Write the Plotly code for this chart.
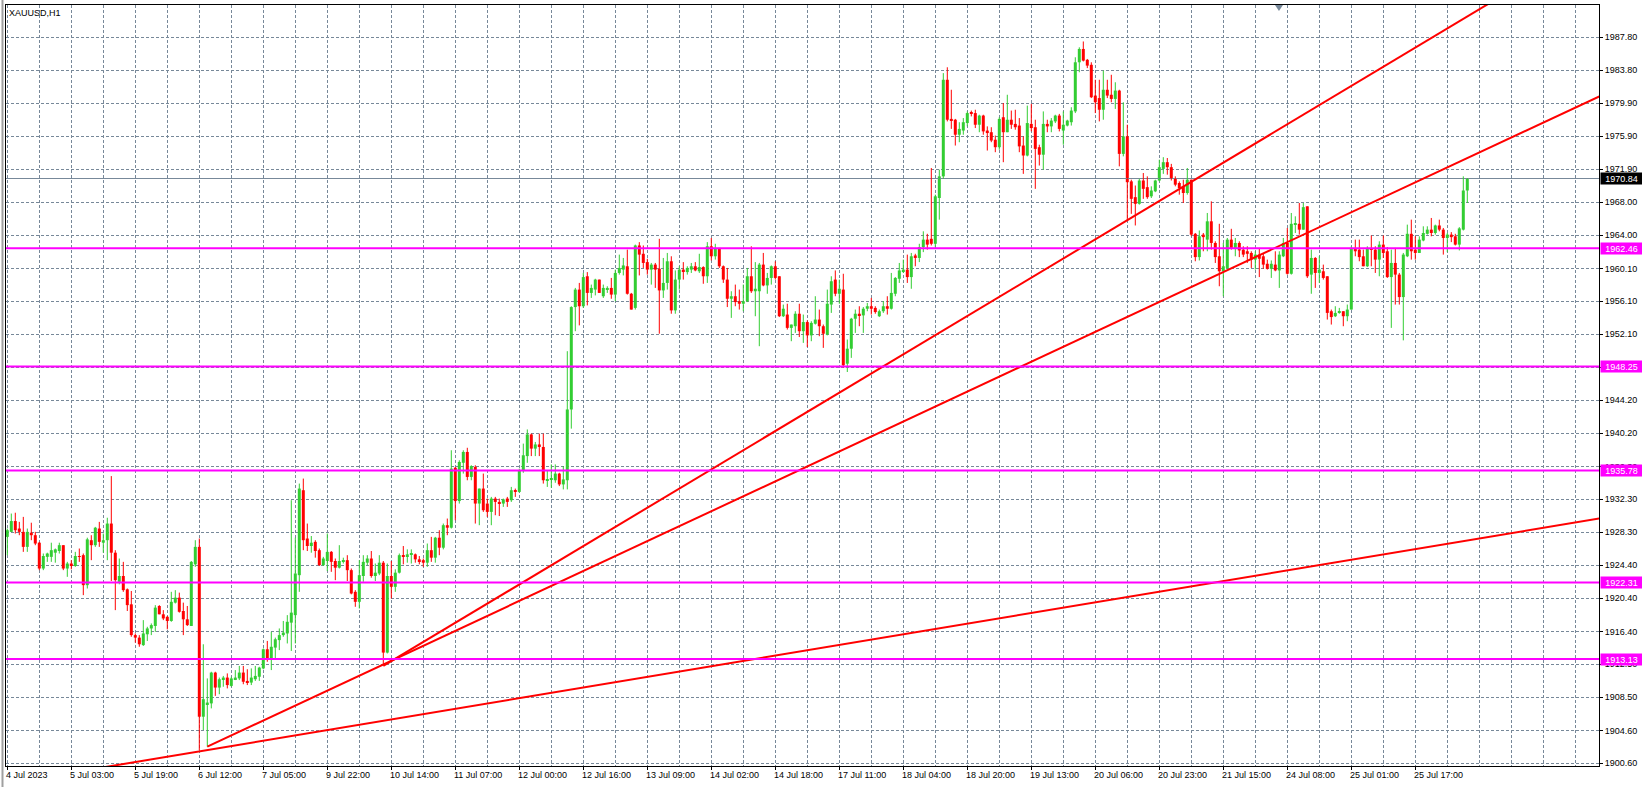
"""XAUUSD H1 candles (MT4 look) with trend lines and horizontal levels."""
import plotly.graph_objects as go

# ---- data --------------------------------------------------------------------
OPEN = [
    1927.8, 1928.4, 1929.7, 1928.8, 1928.4, 1926.6, 1928.3, 1928.0, 1927.1, 1924.0,
    1925.4, 1925.4, 1925.9, 1926.1, 1926.8, 1924.0, 1924.6, 1924.3, 1925.5, 1925.6,
    1922.0, 1927.4, 1926.8, 1928.8, 1927.1, 1927.4, 1929.4, 1925.9, 1922.4, 1923.1,
    1921.5, 1919.7, 1916.0, 1915.7, 1914.8, 1916.1, 1916.8, 1917.1, 1919.5, 1918.5,
    1918.2, 1917.7, 1919.9, 1920.5, 1918.9, 1917.9, 1917.1, 1924.5, 1926.6, 1906.2,
    1907.7, 1907.8, 1911.5, 1909.7, 1910.7, 1910.9, 1909.9, 1910.7, 1910.8, 1911.5,
    1910.5, 1910.3, 1910.7, 1911.0, 1912.0, 1914.3, 1913.1, 1914.5, 1915.4, 1916.0,
    1916.2, 1917.5, 1918.4, 1923.2, 1933.4, 1927.6, 1926.7, 1927.2, 1926.2, 1924.4,
    1924.9, 1926.0, 1924.9, 1924.1, 1924.8, 1925.0, 1923.8, 1921.2, 1920.0, 1923.1,
    1924.7, 1925.2, 1923.1, 1923.4, 1924.7, 1913.9, 1923.1, 1921.8, 1923.5, 1925.6,
    1925.5, 1925.7, 1925.7, 1925.1, 1925.0, 1924.7, 1926.2, 1925.3, 1927.7, 1926.5,
    1929.2, 1928.9, 1936.1, 1932.1, 1936.7, 1938.0, 1935.0, 1936.2, 1931.8, 1933.6,
    1931.8, 1930.8, 1932.4, 1932.0, 1931.8, 1932.4, 1932.2, 1933.4, 1933.2, 1935.7,
    1937.5, 1940.1, 1938.4, 1938.9, 1938.6, 1934.6, 1934.7, 1934.6, 1935.4, 1934.1,
    1934.6, 1943.1, 1955.4, 1957.5, 1955.5, 1959.1, 1957.1, 1957.5, 1958.7, 1956.7,
    1957.5, 1957.7, 1956.9, 1959.5, 1959.9, 1960.3, 1957.0, 1955.3, 1962.8, 1961.8,
    1960.8, 1959.9, 1960.5, 1960.0, 1957.4, 1958.3, 1960.9, 1955.0, 1958.7, 1959.9,
    1959.6, 1959.9, 1960.3, 1959.7, 1960.2, 1959.1, 1962.7, 1961.5, 1962.5, 1960.3,
    1958.7, 1956.4, 1956.7, 1956.1, 1955.8, 1956.1, 1959.1, 1957.3, 1957.3, 1960.5,
    1958.0, 1958.9, 1960.3, 1959.1, 1954.3, 1954.5, 1952.9, 1953.1, 1954.6, 1952.5,
    1953.6, 1952.0, 1953.4, 1953.9, 1953.1, 1952.1, 1955.7, 1958.7, 1957.0, 1957.5,
    1948.6, 1950.4, 1954.0, 1954.6, 1954.4, 1955.2, 1955.5, 1955.3, 1954.3, 1954.9,
    1955.5, 1955.2, 1957.0, 1958.8, 1959.7, 1959.9, 1959.0, 1961.6, 1961.3, 1962.6,
    1963.5, 1963.6, 1963.0, 1968.5, 1971.1, 1982.7, 1978.0, 1977.9, 1976.1, 1976.6,
    1977.5, 1978.8, 1978.7, 1977.3, 1978.4, 1976.6, 1976.4, 1975.5, 1974.6, 1978.2,
    1976.4, 1977.9, 1977.4, 1977.2, 1974.8, 1973.6, 1977.4, 1977.0, 1974.6, 1973.7,
    1977.4, 1977.1, 1977.7, 1978.4, 1976.6, 1977.2, 1977.6, 1978.9, 1984.8, 1986.4,
    1985.1, 1984.5, 1980.8, 1980.5, 1979.1, 1981.5, 1980.9, 1980.4, 1981.4, 1973.8,
    1975.9, 1970.5, 1968.6, 1967.8, 1970.6, 1969.8, 1968.7, 1969.3, 1970.6, 1972.0,
    1972.8, 1972.2, 1970.9, 1970.3, 1969.9, 1969.1, 1970.7, 1964.2, 1961.4, 1964.1,
    1963.5, 1965.7, 1963.1, 1961.5, 1959.7, 1960.1, 1963.5, 1962.5, 1963.1, 1962.3,
    1962.1, 1961.9, 1961.1, 1961.7, 1961.5, 1960.6, 1960.0, 1960.5, 1959.8, 1961.5,
    1963.1, 1959.4, 1965.3, 1965.4, 1964.7, 1967.5, 1959.3, 1961.3, 1959.5, 1959.7,
    1959.1, 1954.9, 1954.3, 1954.7, 1954.9, 1954.3, 1955.1, 1962.5, 1962.3, 1961.5,
    1960.3, 1962.5, 1962.3, 1961.1, 1962.9, 1962.1, 1959.0, 1960.7, 1959.3, 1956.6,
    1961.5, 1964.2, 1962.3, 1961.9, 1963.4, 1964.2, 1964.7, 1964.3, 1965.2, 1964.7,
    1963.7, 1964.1, 1963.9, 1962.9, 1964.7, 1969.4,
]
HIGH = [
    1928.8, 1930.6, 1930.7, 1929.6, 1930.2, 1928.8, 1929.5, 1928.4, 1927.2, 1925.8,
    1925.9, 1927.1, 1926.4, 1927.1, 1926.8, 1924.8, 1925.0, 1926.0, 1926.4, 1925.8,
    1927.7, 1928.0, 1929.0, 1929.6, 1928.2, 1930.1, 1935.1, 1926.2, 1925.2, 1924.8,
    1921.6, 1921.3, 1916.2, 1916.0, 1917.8, 1917.0, 1917.4, 1919.6, 1919.6, 1919.0,
    1918.3, 1921.2, 1921.4, 1921.1, 1919.9, 1919.5, 1924.9, 1927.4, 1927.6, 1914.9,
    1910.8, 1911.6, 1911.6, 1910.9, 1911.1, 1911.4, 1911.0, 1911.8, 1912.3, 1912.3,
    1911.9, 1912.0, 1912.3, 1912.2, 1914.4, 1915.3, 1916.4, 1915.7, 1916.8, 1917.7,
    1918.4, 1932.2, 1927.7, 1934.2, 1934.8, 1929.4, 1927.9, 1927.4, 1926.4, 1925.4,
    1928.2, 1926.1, 1925.2, 1926.8, 1925.3, 1925.6, 1924.0, 1921.4, 1925.0, 1925.6,
    1925.6, 1926.1, 1924.6, 1925.6, 1924.9, 1924.6, 1924.9, 1923.9, 1925.8, 1926.7,
    1926.3, 1926.3, 1925.8, 1925.5, 1925.2, 1927.0, 1927.8, 1927.8, 1928.6, 1929.4,
    1930.0, 1938.2, 1936.2, 1937.0, 1938.2, 1938.5, 1936.4, 1936.4, 1933.6, 1935.4,
    1932.4, 1932.6, 1932.6, 1932.4, 1932.4, 1932.6, 1933.8, 1933.6, 1936.0, 1939.0,
    1940.7, 1940.2, 1939.2, 1940.2, 1940.2, 1935.8, 1936.5, 1936.5, 1935.5, 1936.3,
    1950.1, 1955.5, 1957.7, 1958.3, 1959.5, 1959.6, 1958.1, 1958.8, 1958.7, 1958.1,
    1957.9, 1958.9, 1959.9, 1961.7, 1961.3, 1962.3, 1957.1, 1962.9, 1963.2, 1962.8,
    1961.2, 1960.7, 1960.7, 1963.6, 1961.3, 1961.9, 1961.5, 1959.8, 1960.3, 1960.8,
    1960.3, 1960.7, 1960.8, 1961.8, 1960.3, 1963.2, 1963.7, 1963.0, 1962.5, 1960.4,
    1960.1, 1957.3, 1958.1, 1957.5, 1958.1, 1960.1, 1962.7, 1960.8, 1960.7, 1961.9,
    1959.5, 1960.4, 1960.9, 1959.1, 1955.7, 1955.8, 1953.3, 1954.9, 1955.8, 1954.5,
    1953.8, 1953.7, 1956.7, 1955.1, 1953.3, 1957.5, 1959.1, 1959.8, 1958.7, 1959.4,
    1951.5, 1954.1, 1955.1, 1955.5, 1955.4, 1955.9, 1956.5, 1955.5, 1955.1, 1956.1,
    1956.7, 1959.5, 1959.0, 1960.7, 1961.1, 1961.7, 1961.9, 1961.8, 1963.0, 1964.5,
    1964.2, 1972.1, 1968.9, 1971.9, 1983.5, 1984.2, 1981.5, 1978.0, 1977.6, 1978.1,
    1978.9, 1979.0, 1979.1, 1978.5, 1978.5, 1977.1, 1977.0, 1976.0, 1978.2, 1979.9,
    1980.9, 1979.0, 1979.1, 1978.1, 1975.9, 1979.6, 1979.8, 1977.9, 1974.9, 1978.9,
    1977.9, 1978.1, 1978.5, 1978.6, 1978.9, 1977.9, 1979.4, 1985.4, 1986.6, 1987.3,
    1985.2, 1984.8, 1982.7, 1982.7, 1983.8, 1982.7, 1983.3, 1982.4, 1981.5, 1980.0,
    1977.3, 1970.7, 1970.0, 1970.8, 1971.5, 1971.1, 1969.9, 1970.7, 1973.1, 1973.4,
    1973.3, 1972.6, 1971.1, 1970.5, 1970.7, 1972.1, 1970.7, 1964.3, 1964.6, 1964.3,
    1966.7, 1968.1, 1963.3, 1965.4, 1963.1, 1963.7, 1964.8, 1963.7, 1963.3, 1962.7,
    1962.7, 1962.1, 1962.1, 1962.5, 1961.9, 1961.1, 1961.0, 1962.1, 1962.1, 1963.7,
    1964.9, 1966.7, 1966.3, 1967.9, 1967.9, 1967.5, 1962.3, 1961.4, 1961.5, 1960.5,
    1959.1, 1955.1, 1955.5, 1955.3, 1954.9, 1955.7, 1962.7, 1963.5, 1963.5, 1962.3,
    1962.7, 1964.0, 1962.7, 1963.3, 1964.0, 1962.6, 1962.3, 1962.5, 1959.5, 1961.9,
    1965.3, 1965.9, 1963.9, 1963.9, 1965.1, 1965.1, 1966.1, 1965.3, 1965.9, 1964.9,
    1964.3, 1964.4, 1964.2, 1965.0, 1971.1, 1970.9,
]
LOW = [
    1925.6, 1928.4, 1928.2, 1928.0, 1926.0, 1926.0, 1927.4, 1926.8, 1923.8, 1923.8,
    1924.8, 1924.8, 1924.7, 1925.8, 1923.8, 1923.0, 1923.9, 1924.2, 1924.8, 1920.8,
    1921.6, 1925.0, 1926.6, 1926.6, 1925.9, 1925.0, 1922.5, 1919.0, 1922.1, 1921.2,
    1918.9, 1915.8, 1915.1, 1914.6, 1914.7, 1915.3, 1916.0, 1916.4, 1918.5, 1917.8,
    1916.7, 1917.6, 1919.8, 1918.7, 1916.0, 1917.1, 1917.1, 1924.2, 1902.2, 1904.6,
    1902.6, 1907.2, 1908.7, 1908.9, 1909.8, 1909.6, 1909.8, 1910.6, 1910.6, 1910.1,
    1910.0, 1910.0, 1910.5, 1910.5, 1911.9, 1912.8, 1911.8, 1913.1, 1914.2, 1915.8,
    1915.0, 1914.1, 1915.0, 1921.2, 1926.2, 1926.1, 1925.9, 1925.3, 1924.3, 1924.3,
    1923.7, 1923.6, 1922.6, 1924.0, 1924.6, 1922.5, 1920.9, 1919.4, 1919.2, 1922.4,
    1924.4, 1922.9, 1922.5, 1923.2, 1912.5, 1913.8, 1920.4, 1921.2, 1923.4, 1924.5,
    1924.7, 1924.6, 1924.7, 1924.5, 1924.2, 1924.2, 1924.8, 1924.7, 1925.6, 1926.3,
    1928.0, 1928.8, 1929.8, 1931.8, 1935.4, 1934.6, 1934.6, 1929.4, 1929.2, 1930.8,
    1930.2, 1929.2, 1930.4, 1930.3, 1931.4, 1931.4, 1932.0, 1932.6, 1933.1, 1935.5,
    1936.7, 1937.5, 1937.5, 1937.5, 1934.2, 1933.8, 1933.7, 1934.3, 1933.9, 1933.5,
    1933.5, 1940.8, 1952.5, 1953.2, 1955.3, 1955.6, 1956.5, 1956.8, 1957.1, 1956.5,
    1957.1, 1956.4, 1956.1, 1959.3, 1959.2, 1956.9, 1955.1, 1955.1, 1959.2, 1960.1,
    1959.3, 1958.1, 1957.7, 1952.2, 1956.5, 1957.5, 1954.6, 1954.6, 1957.5, 1958.7,
    1959.3, 1959.5, 1959.7, 1959.5, 1958.2, 1958.3, 1961.0, 1961.1, 1960.1, 1958.3,
    1955.4, 1954.1, 1955.5, 1955.1, 1954.9, 1956.0, 1957.1, 1954.3, 1950.7, 1957.9,
    1957.0, 1958.1, 1958.7, 1954.2, 1954.2, 1952.7, 1951.3, 1952.3, 1951.8, 1951.1,
    1950.6, 1951.3, 1953.3, 1951.9, 1950.5, 1952.0, 1954.7, 1956.7, 1955.8, 1948.1,
    1947.6, 1949.3, 1952.3, 1953.1, 1952.3, 1954.9, 1954.5, 1954.6, 1954.2, 1954.7,
    1954.5, 1955.1, 1956.7, 1958.3, 1959.5, 1958.3, 1957.6, 1960.3, 1960.8, 1962.0,
    1962.3, 1962.8, 1962.6, 1965.9, 1970.8, 1977.7, 1976.8, 1974.8, 1975.2, 1976.1,
    1977.1, 1978.3, 1976.9, 1976.4, 1976.1, 1974.2, 1975.2, 1974.0, 1974.3, 1972.8,
    1976.4, 1976.8, 1976.7, 1974.0, 1971.4, 1973.5, 1976.5, 1969.6, 1972.4, 1971.9,
    1976.4, 1976.4, 1977.5, 1976.5, 1974.9, 1977.1, 1977.2, 1978.7, 1983.6, 1984.9,
    1984.1, 1980.5, 1978.7, 1977.7, 1977.9, 1980.5, 1980.0, 1979.2, 1972.3, 1973.5,
    1965.8, 1966.6, 1965.2, 1967.7, 1968.4, 1968.4, 1968.5, 1969.2, 1970.5, 1971.4,
    1971.3, 1970.6, 1969.9, 1968.9, 1967.9, 1968.9, 1963.9, 1960.9, 1961.0, 1962.1,
    1962.1, 1962.3, 1960.7, 1957.9, 1956.7, 1959.9, 1962.3, 1961.5, 1961.4, 1961.4,
    1960.7, 1960.1, 1959.9, 1959.0, 1960.0, 1959.9, 1958.9, 1959.7, 1957.7, 1961.4,
    1959.3, 1959.3, 1964.3, 1964.1, 1964.7, 1958.9, 1957.0, 1957.7, 1958.3, 1958.7,
    1953.9, 1953.3, 1954.2, 1954.6, 1953.1, 1953.7, 1955.1, 1961.5, 1960.9, 1960.3,
    1960.2, 1960.3, 1959.5, 1959.1, 1961.3, 1958.9, 1952.9, 1955.7, 1955.7, 1951.4,
    1961.4, 1961.1, 1961.1, 1961.9, 1963.3, 1964.1, 1963.9, 1964.1, 1964.5, 1961.7,
    1962.0, 1963.2, 1962.8, 1962.2, 1964.6, 1967.9,
]
CLOSE = [
    1928.6, 1929.7, 1928.6, 1928.4, 1926.6, 1928.4, 1928.0, 1927.0, 1924.0, 1925.5,
    1925.8, 1926.2, 1926.3, 1926.8, 1924.0, 1924.6, 1924.3, 1925.5, 1925.4, 1922.0,
    1927.5, 1926.8, 1928.9, 1927.2, 1927.4, 1929.4, 1925.9, 1922.6, 1923.1, 1921.4,
    1919.6, 1916.0, 1915.7, 1914.9, 1916.2, 1916.8, 1917.2, 1919.3, 1918.5, 1918.0,
    1917.7, 1920.0, 1920.5, 1918.8, 1917.9, 1917.2, 1924.8, 1926.6, 1906.2, 1908.3,
    1907.9, 1911.5, 1909.7, 1910.7, 1910.9, 1910.0, 1910.8, 1910.9, 1911.5, 1910.4,
    1910.3, 1910.9, 1911.1, 1912.1, 1914.3, 1913.1, 1914.6, 1915.5, 1916.0, 1916.3,
    1917.6, 1918.7, 1923.4, 1933.6, 1927.4, 1926.7, 1927.1, 1926.1, 1924.4, 1925.2,
    1926.0, 1924.8, 1924.1, 1924.9, 1925.0, 1923.8, 1921.0, 1920.0, 1923.2, 1924.8,
    1925.2, 1923.1, 1923.5, 1924.7, 1913.9, 1923.1, 1921.8, 1923.5, 1925.6, 1925.5,
    1925.7, 1925.8, 1925.1, 1924.9, 1924.7, 1926.2, 1925.3, 1927.7, 1926.5, 1929.2,
    1928.9, 1936.0, 1932.1, 1936.8, 1938.0, 1935.0, 1936.3, 1931.8, 1933.6, 1931.0,
    1930.8, 1932.4, 1932.0, 1931.8, 1932.3, 1932.0, 1933.4, 1933.2, 1935.8, 1937.6,
    1940.1, 1938.4, 1938.9, 1938.6, 1934.6, 1934.7, 1934.8, 1935.4, 1934.1, 1934.7,
    1943.1, 1955.4, 1957.5, 1955.5, 1959.0, 1957.1, 1957.7, 1958.7, 1957.1, 1957.7,
    1957.7, 1956.9, 1959.5, 1960.1, 1960.4, 1957.0, 1955.1, 1962.8, 1961.7, 1960.7,
    1959.9, 1960.5, 1959.9, 1957.4, 1958.3, 1960.9, 1955.0, 1958.7, 1959.9, 1959.7,
    1960.1, 1960.3, 1959.8, 1960.2, 1959.1, 1962.7, 1961.5, 1962.5, 1960.3, 1958.7,
    1956.4, 1956.7, 1956.0, 1955.8, 1956.1, 1959.1, 1957.3, 1957.6, 1960.5, 1958.0,
    1958.9, 1960.3, 1958.9, 1954.3, 1955.2, 1952.9, 1953.3, 1954.6, 1952.5, 1953.6,
    1952.0, 1953.5, 1953.9, 1953.1, 1952.2, 1955.8, 1958.5, 1957.0, 1957.6, 1948.4,
    1950.4, 1954.0, 1954.6, 1954.4, 1955.2, 1955.5, 1955.2, 1954.8, 1954.9, 1955.5,
    1955.2, 1957.1, 1958.9, 1959.8, 1959.9, 1959.0, 1961.5, 1961.3, 1962.6, 1963.5,
    1962.9, 1963.0, 1968.7, 1971.1, 1982.7, 1977.9, 1977.8, 1976.1, 1976.8, 1977.6,
    1978.7, 1978.7, 1977.3, 1978.4, 1976.5, 1976.3, 1975.4, 1974.6, 1978.0, 1976.4,
    1977.9, 1977.3, 1977.0, 1974.7, 1973.6, 1977.5, 1976.9, 1974.4, 1973.7, 1977.4,
    1977.1, 1977.8, 1978.4, 1976.8, 1977.3, 1977.8, 1979.0, 1984.8, 1986.4, 1985.0,
    1984.4, 1980.6, 1980.0, 1979.1, 1981.5, 1980.8, 1980.4, 1981.4, 1973.8, 1975.9,
    1970.4, 1968.4, 1967.8, 1970.6, 1969.6, 1968.6, 1969.4, 1970.6, 1972.2, 1972.8,
    1972.2, 1970.8, 1970.1, 1969.7, 1969.1, 1970.7, 1964.1, 1961.4, 1963.9, 1963.8,
    1965.7, 1963.1, 1961.4, 1959.7, 1960.3, 1963.5, 1962.5, 1963.1, 1962.2, 1961.7,
    1961.8, 1961.1, 1961.7, 1961.2, 1960.5, 1960.0, 1960.6, 1959.8, 1961.7, 1963.1,
    1959.4, 1965.4, 1965.4, 1964.7, 1967.4, 1959.1, 1961.3, 1959.5, 1959.9, 1958.9,
    1954.7, 1954.2, 1954.7, 1954.9, 1954.3, 1955.1, 1962.5, 1962.1, 1961.4, 1960.3,
    1962.5, 1962.3, 1961.1, 1962.9, 1961.9, 1959.0, 1960.7, 1959.3, 1956.6, 1961.7,
    1964.2, 1962.1, 1961.9, 1963.5, 1964.3, 1964.7, 1964.3, 1965.2, 1964.7, 1963.7,
    1964.1, 1963.8, 1962.9, 1964.85, 1969.4, 1970.84,
]

# one label every 16 bars, starting at bar 0
X_LABELS = [
    "4 Jul 2023", "5 Jul 03:00", "5 Jul 19:00", "6 Jul 12:00", "7 Jul 05:00",
    "9 Jul 22:00", "10 Jul 14:00", "11 Jul 07:00", "12 Jul 00:00", "12 Jul 16:00",
    "13 Jul 09:00", "14 Jul 02:00", "14 Jul 18:00", "17 Jul 11:00", "18 Jul 04:00",
    "18 Jul 20:00", "19 Jul 13:00", "20 Jul 06:00", "20 Jul 23:00", "21 Jul 15:00",
    "24 Jul 08:00", "25 Jul 01:00", "25 Jul 17:00",
]
LABEL_STEP = 16

PRICE_TICKS = [
    1987.80, 1983.84, 1979.87, 1975.91, 1971.95, 1967.98, 1964.02, 1960.05,
    1956.09, 1952.13, 1948.16, 1944.20, 1940.24, 1936.27, 1932.31, 1928.35,
    1924.38, 1920.42, 1916.45, 1912.49, 1908.53, 1904.56, 1900.60,
]
PRICE_TICK_TEXT = [
    "1987.80", "1983.80", "1979.90", "1975.90", "1971.90", "1968.00", "1964.00",
    "1960.10", "1956.10", "1952.10", "1948.20", "1944.20", "1940.20", "1936.30",
    "1932.30", "1928.30", "1924.40", "1920.40", "1916.40", "1912.50", "1908.50",
    "1904.60", "1900.60",
]

LEVELS = [1962.46, 1948.25, 1935.78, 1922.31, 1913.13]
LAST_PRICE = 1970.84

# trend lines: (bar index, price) anchors
TREND_X = [[50, 398], [94, 398], [0, 398]]
TREND_Y = [[1902.6, 1980.7], [1912.3, 1999.8], [1898.2, 1930.0]]

# ---- style -------------------------------------------------------------------
W, H = 1642, 787
ML, MR, MT, MB = 6, 43, 5, 21
X_RANGE = [-0.325, 397.925]
Y_RANGE = [1900.28, 1991.68]

BULL = "#32CD32"
BEAR = "#FF0000"
GRID = "#778899"
LEVEL = "#FF00FF"
FONT = "Liberation Sans, Arial, sans-serif"

idx = list(range(len(OPEN)))
bull = [i for i in idx if CLOSE[i] >= OPEN[i]]
bear = [i for i in idx if CLOSE[i] < OPEN[i]]


def _wicks(ids):
    xs, ys = [], []
    for i in ids:
        xs += [i, i, None]
        ys += [LOW[i], HIGH[i], None]
    return xs, ys


fig = go.Figure()

# bid line first so the candles sit on top of it
fig.add_trace(go.Scatter(
    x=X_RANGE, y=[LAST_PRICE, LAST_PRICE], mode="lines",
    line=dict(color=GRID, width=1), hoverinfo="skip", showlegend=False,
))

for ids, color in ((bull, BULL), (bear, BEAR)):
    wx, wy = _wicks(ids)
    fig.add_trace(go.Scatter(
        x=wx, y=wy, mode="lines", line=dict(color=color, width=1),
        hoverinfo="skip", showlegend=False,
    ))
    fig.add_trace(go.Bar(
        x=ids,
        y=[max(abs(CLOSE[i] - OPEN[i]), 0.1) for i in ids],
        base=[min(OPEN[i], CLOSE[i]) for i in ids],
        width=0.75, marker=dict(color=color, line=dict(width=0)),
        hoverinfo="skip", showlegend=False,
    ))

for tx, ty in zip(TREND_X, TREND_Y):
    fig.add_trace(go.Scatter(
        x=tx, y=ty, mode="lines", line=dict(color=BEAR, width=2),
        hoverinfo="skip", showlegend=False,
    ))

for lv in LEVELS:
    fig.add_hline(y=lv, line=dict(color=LEVEL, width=2), layer="above")

label_ticks = [k * LABEL_STEP for k in range(len(X_LABELS))]

fig.update_layout(
    width=W, height=H, autosize=False,
    margin=dict(l=ML, r=MR, t=MT, b=MB, pad=0),
    paper_bgcolor="white", plot_bgcolor="white",
    barmode="overlay", showlegend=False,
    font=dict(family=FONT, size=9, color="black"),
    xaxis=dict(
        range=X_RANGE, zeroline=False, showticklabels=False,
        tickmode="array", tickvals=label_ticks,
        ticks="outside", ticklen=3, tickcolor="black", tickwidth=1,
        showgrid=True, gridcolor=GRID, gridwidth=1, griddash="3px,2px",
        minor=dict(tick0=0, dtick=8, showgrid=True, gridcolor=GRID,
                   gridwidth=1, griddash="3px,2px", ticks=""),
        showline=True, mirror=True, linecolor="black", linewidth=1,
    ),
    yaxis=dict(
        range=Y_RANGE, side="right", zeroline=False,
        tickmode="array", tickvals=PRICE_TICKS, ticktext=PRICE_TICK_TEXT,
        ticks="outside", ticklen=3, tickcolor="black", tickwidth=1,
        tickfont=dict(family=FONT, size=9, color="black"),
        showgrid=True, gridcolor=GRID, gridwidth=1, griddash="3px,2px",
        showline=True, mirror=True, linecolor="black", linewidth=1,
    ),
)

# time labels, left-aligned at their tick like MT4
for pos, txt in zip(label_ticks, X_LABELS):
    fig.add_annotation(
        x=pos, xref="x", y=0, yref="paper", text=txt, showarrow=False,
        xanchor="left", yanchor="top", xshift=-3, yshift=-2,
        font=dict(family=FONT, size=9, color="black"),
    )

# price tags on the axis
for lv in LEVELS:
    fig.add_annotation(
        x=1, xref="paper", y=lv, yref="y", text=f"{lv:.2f}", showarrow=False,
        xanchor="left", xshift=1, width=41, height=11, align="center",
        bgcolor=LEVEL, borderpad=0, font=dict(family=FONT, size=9, color="white"),
    )
fig.add_annotation(
    x=1, xref="paper", y=LAST_PRICE, yref="y", text=f"{LAST_PRICE:.2f}",
    showarrow=False, xanchor="left", xshift=1, width=41, height=11,
    align="center", bgcolor="black", borderpad=0,
    font=dict(family=FONT, size=9, color="white"),
)

fig.add_annotation(
    x=0, xref="paper", y=1, yref="paper", text="XAUUSD,H1", showarrow=False,
    xanchor="left", yanchor="top", xshift=1, yshift=-1,
    font=dict(family=FONT, size=9, color="black"),
)

# window border on the far left and the chart-shift marker on top
fig.add_shape(type="line", xref="paper", yref="paper",
              x0=-0.0022, x1=-0.0022, y0=-0.03, y1=1.01,
              line=dict(color="#A0A0A0", width=2))
fig.add_shape(type="path", xref="paper", yref="paper",
              path="M 0.7966 1 L 0.8016 1 L 0.7991 0.9921 Z",
              fillcolor=GRID, line=dict(color=GRID, width=0))

fig.write_html(
    "out.html", config=dict(displayModeBar=False),
    post_script="document.body.style.margin='0';document.body.style.overflow='hidden';",
)
